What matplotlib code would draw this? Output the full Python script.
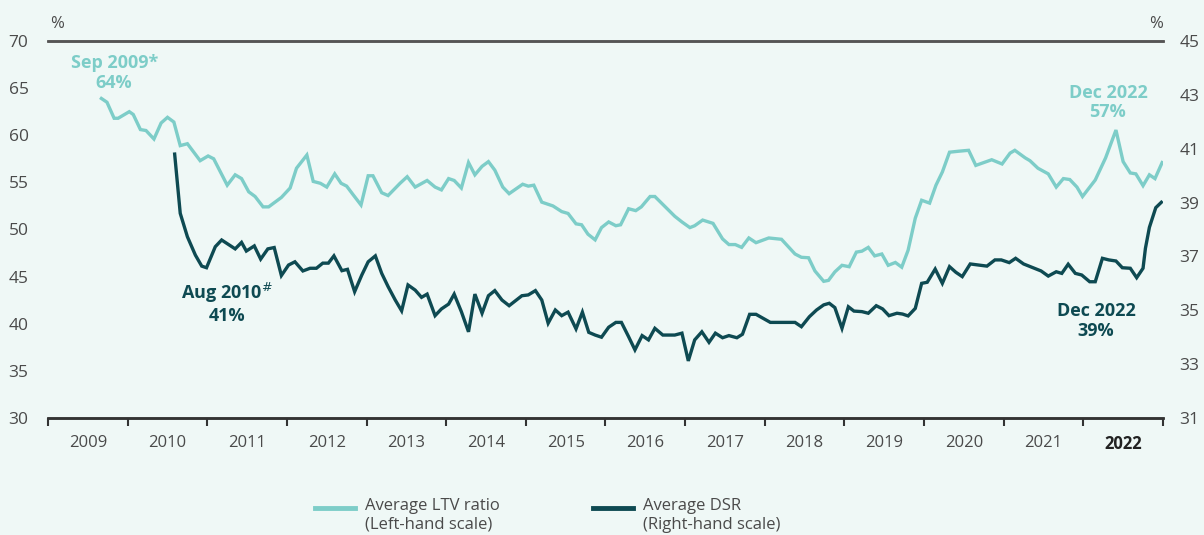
import matplotlib.pyplot as plt
import numpy as np

ltv_dates = [2009.67, 2009.74, 2009.83, 2009.88, 2010.02, 2010.07, 2010.16, 2010.23,
             2010.33, 2010.42, 2010.50, 2010.58, 2010.66, 2010.75, 2010.91, 2011.01,
             2011.08, 2011.25, 2011.35, 2011.43, 2011.52, 2011.60, 2011.70, 2011.77,
             2011.93, 2012.04, 2012.12, 2012.25, 2012.33, 2012.42, 2012.50, 2012.60,
             2012.68, 2012.75, 2012.83, 2012.93, 2013.02, 2013.08, 2013.19, 2013.27,
             2013.42, 2013.51, 2013.61, 2013.76, 2013.86, 2013.94, 2014.03, 2014.10,
             2014.19, 2014.28, 2014.36, 2014.45, 2014.53, 2014.61, 2014.71, 2014.79,
             2014.96, 2015.03, 2015.10, 2015.20, 2015.34, 2015.45, 2015.53, 2015.63,
             2015.70, 2015.78, 2015.87, 2015.95, 2016.04, 2016.13, 2016.19, 2016.29,
             2016.38, 2016.45, 2016.56, 2016.62, 2016.75, 2016.87, 2016.96, 2017.06,
             2017.12, 2017.22, 2017.35, 2017.47, 2017.55, 2017.63, 2017.71, 2017.80,
             2017.89, 2018.05, 2018.21, 2018.38, 2018.46, 2018.55, 2018.63, 2018.74,
             2018.80, 2018.88, 2018.97, 2019.06, 2019.15, 2019.22, 2019.30, 2019.38,
             2019.47, 2019.55, 2019.64, 2019.72, 2019.80, 2019.89, 2019.97, 2020.07,
             2020.15, 2020.23, 2020.32, 2020.43, 2020.56, 2020.65, 2020.85, 2020.98,
             2021.08, 2021.14, 2021.27, 2021.33, 2021.43, 2021.56, 2021.66, 2021.75,
             2021.83, 2021.92, 2021.99, 2022.15, 2022.28, 2022.41, 2022.50, 2022.59,
             2022.66, 2022.75, 2022.83, 2022.90, 2022.99]
ltv_values = [63.9, 63.5, 61.8, 61.8, 62.5, 62.2, 60.6, 60.5,
              59.6, 61.3, 61.9, 61.4, 58.9, 59.1, 57.3, 57.8,
              57.5, 54.7, 55.8, 55.4, 54.0, 53.5, 52.4, 52.4,
              53.4, 54.4, 56.5, 57.9, 55.1, 54.9, 54.5, 55.9,
              54.9, 54.6, 53.7, 52.6, 55.7, 55.7, 53.9, 53.6,
              54.9, 55.6, 54.5, 55.2, 54.5, 54.2, 55.4, 55.2,
              54.4, 57.1, 55.8, 56.7, 57.2, 56.3, 54.5, 53.8,
              54.8, 54.6, 54.7, 52.9, 52.5, 51.9, 51.7, 50.6,
              50.5, 49.5, 48.9, 50.2, 50.8, 50.4, 50.5, 52.2,
              52.0, 52.4, 53.5, 53.5, 52.4, 51.4, 50.8, 50.2,
              50.4, 51.0, 50.65, 49.0, 48.4, 48.4, 48.1, 49.1,
              48.6, 49.1, 48.96, 47.4, 47.05, 47.0, 45.6, 44.5,
              44.6, 45.5, 46.2, 46.05, 47.6, 47.7, 48.1, 47.2,
              47.4, 46.2, 46.5, 46.0, 47.8, 51.2, 53.1, 52.8,
              54.7, 56.1, 58.2, 58.3, 58.4, 56.8, 57.4, 56.95,
              58.1, 58.4, 57.6, 57.3, 56.5, 55.9, 54.5, 55.4,
              55.3, 54.5, 53.5, 55.25, 57.6, 60.55, 57.2, 56.0,
              55.9, 54.65, 55.8, 55.4, 57.1]

dsr_dates = [2010.59, 2010.66, 2010.75, 2010.85, 2010.93, 2010.99, 2011.10, 2011.18,
             2011.35, 2011.43, 2011.49, 2011.59, 2011.67, 2011.76, 2011.84, 2011.93,
             2012.02, 2012.10, 2012.20, 2012.29, 2012.37, 2012.45, 2012.52, 2012.59,
             2012.69, 2012.76, 2012.85, 2012.94, 2013.02, 2013.11, 2013.19, 2013.27,
             2013.36, 2013.44, 2013.52, 2013.61, 2013.69, 2013.76, 2013.86, 2013.94,
             2014.03, 2014.10, 2014.19, 2014.28, 2014.36, 2014.45, 2014.53, 2014.61,
             2014.70, 2014.79, 2014.95, 2015.03, 2015.12, 2015.20, 2015.28, 2015.37,
             2015.45, 2015.53, 2015.63, 2015.71, 2015.79, 2015.87, 2015.95, 2016.04,
             2016.13, 2016.20, 2016.29, 2016.37, 2016.46, 2016.54, 2016.62, 2016.72,
             2016.87, 2016.96, 2017.04, 2017.12, 2017.21, 2017.30, 2017.38, 2017.47,
             2017.55, 2017.65, 2017.72, 2017.81, 2017.89, 2017.98, 2018.07, 2018.38,
             2018.46, 2018.56, 2018.65, 2018.74, 2018.81, 2018.88, 2018.97, 2019.05,
             2019.12, 2019.22, 2019.30, 2019.40, 2019.48, 2019.56, 2019.66, 2019.73,
             2019.80, 2019.89, 2019.97, 2020.04, 2020.14, 2020.23, 2020.32, 2020.40,
             2020.48, 2020.58, 2020.79, 2020.89, 2020.97, 2021.07, 2021.15, 2021.25,
             2021.35, 2021.47, 2021.56, 2021.66, 2021.73, 2021.81, 2021.90, 2021.98,
             2022.08, 2022.15, 2022.24, 2022.32, 2022.41, 2022.49, 2022.59, 2022.67,
             2022.75, 2022.78, 2022.83, 2022.91, 2022.98]
dsr_values = [40.8, 38.6, 37.73, 37.05, 36.64, 36.58, 37.36, 37.61,
              37.28, 37.52, 37.2, 37.39, 36.9, 37.28, 37.33, 36.29,
              36.68, 36.8, 36.46, 36.56, 36.56, 36.75, 36.75, 37.02,
              36.47, 36.52, 35.69, 36.31, 36.8, 37.02, 36.37, 35.88,
              35.38, 34.98, 35.94, 35.75, 35.48, 35.6, 34.8, 35.05,
              35.23, 35.6, 34.95, 34.2, 35.6, 34.89, 35.54, 35.73,
              35.38, 35.17, 35.54, 35.57, 35.73, 35.38, 34.52, 35.01,
              34.8, 34.93, 34.31, 34.93, 34.18, 34.08, 34.0, 34.37,
              34.55, 34.55, 34.02, 33.53, 34.06, 33.9, 34.33, 34.08,
              34.08, 34.15, 33.12, 33.9, 34.2, 33.81, 34.15, 33.98,
              34.06, 33.98, 34.11, 34.85, 34.85, 34.7, 34.55, 34.55,
              34.39, 34.76, 35.01, 35.2, 35.26, 35.1, 34.33, 35.13,
              34.97, 34.95, 34.89, 35.17, 35.05, 34.8, 34.89, 34.86,
              34.79, 35.07, 36.0, 36.04, 36.53, 36.0, 36.62, 36.41,
              36.25, 36.72, 36.64, 36.87, 36.87, 36.77, 36.93, 36.72,
              36.6, 36.46, 36.27, 36.43, 36.37, 36.71, 36.37, 36.31,
              36.06, 36.06, 36.93, 36.87, 36.83, 36.58, 36.56, 36.21,
              36.56, 37.3, 38.08, 38.81, 39.01]

years = list(range(2009, 2023))
ltv_ticks = [30, 35, 40, 45, 50, 55, 60, 65, 70]
dsr_ticks = [31, 33, 35, 37, 39, 41, 43, 45]

BG = "#eff8f6"
LIGHT = "#7dcdc8"
DARK = "#0e4a52"
GREY = "#4a4a4a"

plt.rcParams["font.family"] = ["Open Sans", "DejaVu Sans"]

fig = plt.figure(figsize=(12.04, 5.35), dpi=100, facecolor=BG)
ax = fig.add_axes([0.0399, 0.2187, 0.926, 0.7047], facecolor=BG)
ax2 = ax.twinx()

ax.plot(ltv_dates, ltv_values, color=LIGHT, lw=2.4, solid_joinstyle="miter",
        label="Average LTV ratio\n(Left-hand scale)")
ax2.plot(dsr_dates, dsr_values, color=DARK, lw=2.4, solid_joinstyle="miter",
         label="Average DSR\n(Right-hand scale)")

ax.set_xlim(2009, 2023)
ax.set_ylim(30, 70)
ax2.set_ylim(31, 45)
ax.set_yticks(ltv_ticks)
ax2.set_yticks(dsr_ticks)

ax.set_xticks(np.arange(2009, 2024))
ax.set_xticklabels([])
ax.set_xticks([y + 0.5 for y in years], minor=True)
ax.set_xticklabels([str(y) for y in years], minor=True)
ax.tick_params(axis="x", which="major", direction="out", length=6, width=1.5, color="#333333")
ax.tick_params(axis="x", which="minor", length=0, pad=12, labelsize=12, labelcolor=GREY)
lbls = ax.get_xticklabels(minor=True)
lbls[-1].set_fontweight("bold")
lbls[-1].set_color("#222222")

ax.tick_params(axis="y", length=0, pad=14, labelsize=12.5, labelcolor=GREY)
ax2.tick_params(axis="y", length=0, pad=12, labelsize=12.5, labelcolor=GREY)

for a in (ax, ax2):
    a.spines["left"].set_visible(False)
    a.spines["right"].set_visible(False)
    a.spines["top"].set_color("#555555")
    a.spines["top"].set_linewidth(1.8)
    a.spines["bottom"].set_color("#333333")
    a.spines["bottom"].set_linewidth(1.8)

ax.text(0.002, 1.025, "%", transform=ax.transAxes, ha="left", va="bottom", fontsize=12, color=GREY)
ax2.text(1.0, 1.025, "%", transform=ax2.transAxes, ha="right", va="bottom", fontsize=12, color=GREY)

# annotations
ax.text(2009.83, 66.6, "Sep 2009*\n64%", ha="center", va="center", fontsize=13,
        fontweight="bold", color=LIGHT, linespacing=1.1)
ax2.text(2011.25, 35.27, "Aug 2010$^{\\#}$\n41%", ha="center", va="center", fontsize=13,
         fontweight="bold", color=DARK, linespacing=1.1)
ax.text(2022.31, 63.45, "Dec 2022\n57%", ha="center", va="center", fontsize=13,
        fontweight="bold", color=LIGHT, linespacing=1.1)
ax2.text(2022.16, 34.6, "Dec 2022\n39%", ha="center", va="center", fontsize=13,
         fontweight="bold", color=DARK, linespacing=1.1)

h1, l1 = ax.get_legend_handles_labels()
h2, l2 = ax2.get_legend_handles_labels()
leg = fig.legend(h1 + h2, l1 + l2, loc="upper left", bbox_to_anchor=(0.249, 0.097),
                 ncol=2, frameon=False, fontsize=12, handlelength=2.4,
                 handletextpad=0.6, columnspacing=5.6, labelcolor=GREY)
# lift the handles to sit level with the first label line
for line in leg.get_lines():
    line.set_linewidth(3.5)
    line.set_ydata(np.asarray(line.get_ydata(), dtype=float) + 5.5)

fig.savefig("out.png", dpi=100, facecolor=BG)
